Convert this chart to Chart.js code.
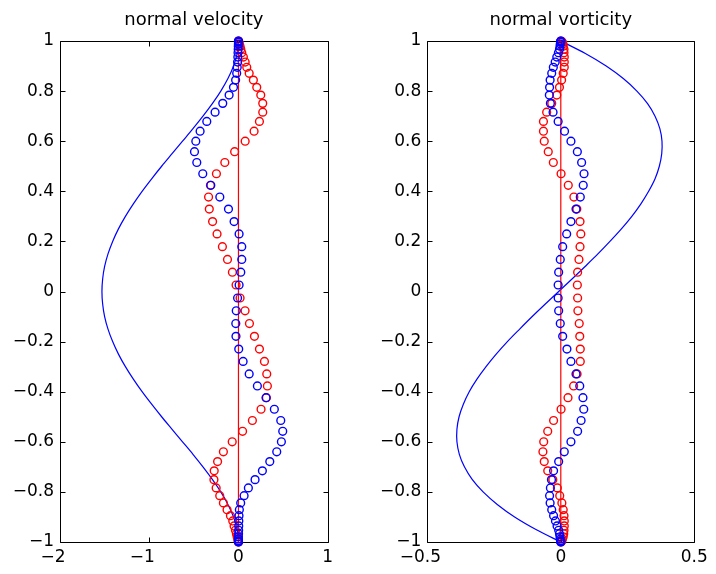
<!DOCTYPE html>
<html>
<head>
<meta charset="utf-8">
<script src="https://cdn.jsdelivr.net/npm/chart.js@4.4.1/dist/chart.umd.min.js"></script>
<style>
  html, body { margin: 0; padding: 0; background: #fff; }
  #wrap { position: relative; width: 716px; height: 574px; }
  canvas { position: absolute; top: 0; }
  #vel { left: 0; }
  #vort { left: 358px; }
</style>
</head>
<body>
<div id="wrap">
  <canvas id="vel" width="358" height="574"></canvas>
  <canvas id="vort" width="358" height="574"></canvas>
</div>
<script>
// Collocation points across the channel (wall to wall)
const yNodes = [1, 0.999, 0.995, 0.988, 0.979, 0.967, 0.953, 0.936, 0.916, 0.895,
  0.871, 0.844, 0.815, 0.784, 0.751, 0.716, 0.679, 0.640, 0.600, 0.558,
  0.515, 0.470, 0.424, 0.377, 0.329, 0.279, 0.230, 0.179, 0.128, 0.077,
  0.026, -0.026, -0.077, -0.128, -0.179, -0.230, -0.279, -0.329, -0.377, -0.424,
  -0.470, -0.515, -0.558, -0.600, -0.640, -0.679, -0.716, -0.751, -0.784, -0.815,
  -0.844, -0.871, -0.895, -0.916, -0.936, -0.953, -0.967, -0.979, -0.988, -0.995,
  -0.999, -1];

// Normal velocity at the nodes (blue / red markers)
const velBlue = [0, 0, 0, -0.001, -0.002, -0.003, -0.005, -0.007, -0.010, -0.014,
  -0.020, -0.032, -0.056, -0.105, -0.176, -0.262, -0.355, -0.430, -0.478, -0.493,
  -0.467, -0.400, -0.310, -0.209, -0.112, -0.049, 0.007, 0.037, 0.037, 0.026,
  0.007, -0.010, -0.025, -0.030, -0.028, 0.003, 0.052, 0.120, 0.212, 0.309,
  0.402, 0.474, 0.496, 0.481, 0.429, 0.351, 0.268, 0.186, 0.111, 0.063,
  0.025, 0.010, 0.006, 0.004, 0.003, 0.002, 0.001, 0, 0, 0,
  0, 0];
const velRed = [0, 0.002, 0.005, 0.010, 0.018, 0.026, 0.037, 0.055, 0.075, 0.093,
  0.120, 0.167, 0.205, 0.250, 0.272, 0.272, 0.235, 0.175, 0.075, -0.043,
  -0.153, -0.247, -0.314, -0.335, -0.327, -0.290, -0.240, -0.180, -0.123, -0.068,
  -0.027, 0.018, 0.074, 0.123, 0.179, 0.235, 0.291, 0.317, 0.324, 0.313,
  0.253, 0.156, 0.046, -0.070, -0.169, -0.234, -0.272, -0.275, -0.250, -0.210,
  -0.169, -0.128, -0.090, -0.064, -0.049, -0.034, -0.023, -0.015, -0.008, -0.004,
  -0.001, 0];

// Normal vorticity at the nodes (blue / red markers)
const vortBlue = [0, 0, -0.001, -0.002, -0.003, -0.005, -0.009, -0.015, -0.021, -0.028,
  -0.034, -0.040, -0.042, -0.043, -0.039, -0.029, -0.010, 0.014, 0.038, 0.062,
  0.078, 0.087, 0.084, 0.073, 0.057, 0.038, 0.022, 0.007, -0.002, -0.008,
  -0.010, -0.010, -0.008, -0.002, 0.007, 0.023, 0.038, 0.057, 0.071, 0.083,
  0.086, 0.076, 0.063, 0.038, 0.013, -0.008, -0.027, -0.035, -0.039, -0.042,
  -0.040, -0.034, -0.027, -0.020, -0.014, -0.008, -0.005, -0.003, -0.002, -0.001,
  0, 0];
const vortRed = [0, 0.003, 0.006, 0.008, 0.009, 0.012, 0.012, 0.013, 0.013, 0.013,
  0.009, 0.003, -0.005, -0.015, -0.034, -0.053, -0.065, -0.065, -0.062, -0.047,
  -0.028, 0.001, 0.028, 0.049, 0.060, 0.072, 0.075, 0.072, 0.068, 0.063,
  0.062, 0.063, 0.064, 0.069, 0.071, 0.073, 0.073, 0.061, 0.048, 0.027,
  0.001, -0.027, -0.049, -0.064, -0.067, -0.062, -0.049, -0.030, -0.013, -0.004,
  0.004, 0.009, 0.012, 0.013, 0.013, 0.012, 0.011, 0.009, 0.006, 0.004,
  0.002, 0];

// Continuous profiles (solid lines)
const curveY = [1, 0.95, 0.9, 0.85, 0.8, 0.75, 0.7, 0.65, 0.6, 0.55,
  0.5, 0.45, 0.4, 0.35, 0.3, 0.25, 0.2, 0.15, 0.1, 0.05,
  0, -0.05, -0.1, -0.15, -0.2, -0.25, -0.3, -0.35, -0.4, -0.45,
  -0.5, -0.55, -0.6, -0.65, -0.7, -0.75, -0.8, -0.85, -0.9, -0.95, -1];
const velCurve = [0, -0.015, -0.055, -0.118, -0.198, -0.293, -0.398, -0.510, -0.627, -0.744,
  -0.861, -0.973, -1.080, -1.178, -1.267, -1.345, -1.410, -1.462, -1.500, -1.522,
  -1.530, -1.522, -1.500, -1.462, -1.410, -1.345, -1.267, -1.178, -1.080, -0.973,
  -0.861, -0.744, -0.627, -0.510, -0.398, -0.293, -0.198, -0.118, -0.055, -0.015, 0];
const vortCurve = [0, 0.092, 0.170, 0.234, 0.285, 0.325, 0.353, 0.371, 0.379, 0.378,
  0.369, 0.353, 0.329, 0.300, 0.266, 0.227, 0.184, 0.139, 0.091, 0.042,
  -0.008, -0.058, -0.107, -0.154, -0.200, -0.242, -0.280, -0.314, -0.343, -0.365,
  -0.381, -0.389, -0.389, -0.380, -0.361, -0.332, -0.291, -0.238, -0.173, -0.093, 0];
const zeroLineX = [0, 0];
const zeroLineY = [1, -1];

const yTicks = { min: -1, max: 1, step: 0.2 };
const velXTicks = { min: -2, max: 1, step: 1 };
const vortXTicks = { min: -0.5, max: 0.5, step: 0.5 };

const FONT = "'DejaVu Sans', 'Liberation Sans', Arial, sans-serif";
const BLUE = '#0000ff';
const RED = '#ff0000';

const pts = (xs, ys) => xs.map((x, i) => ({ x: x, y: ys[i] }));
const fmt = v => String(Math.round(v * 10) / 10).replace('-', '\u2212');
// x labels: the number sits on its tick and the minus sign hangs to the left
const fmtX = v => (v < 0 ? fmt(v) + '\u2002\u2008' : fmt(v));

// Axes box with inward tick marks on all four sides
const boxPlugin = {
  id: 'box',
  beforeDatasetsDraw(chart) {
    const { ctx, chartArea: a, scales } = chart;
    const L = Math.round(a.left) + 0.5, R = Math.round(a.right) + 0.5;
    const T = Math.round(a.top) + 0.5, B = Math.round(a.bottom) + 0.5;
    const tl = 5;
    ctx.save();
    ctx.strokeStyle = '#000';
    ctx.lineWidth = 1;
    ctx.beginPath();
    ctx.rect(L, T, R - L, B - T);
    scales.x.ticks.forEach(t => {
      const p = Math.round(scales.x.getPixelForValue(t.value)) + 0.5;
      ctx.moveTo(p, B); ctx.lineTo(p, B - tl);
      ctx.moveTo(p, T); ctx.lineTo(p, T + tl);
    });
    scales.y.ticks.forEach(t => {
      const p = Math.round(scales.y.getPixelForValue(t.value)) + 0.5;
      ctx.moveTo(L, p); ctx.lineTo(L + tl, p);
      ctx.moveTo(R, p); ctx.lineTo(R - tl, p);
    });
    ctx.stroke();
    ctx.restore();
  }
};

// Panel title centred over the plotting area
const titlePlugin = {
  id: 'panelTitle',
  afterDraw(chart, args, opts) {
    const { ctx, chartArea: a } = chart;
    ctx.save();
    ctx.font = '18px ' + FONT;
    ctx.fillStyle = '#000';
    ctx.textAlign = 'center';
    ctx.textBaseline = 'alphabetic';
    ctx.fillText(opts.text, (a.left + a.right) / 2, 25);
    ctx.restore();
  }
};

function makePanel(id, title, xt, axisW, padRight, curve, blue, red) {
  const marker = color => ({
    showLine: false, pointStyle: 'circle', pointRadius: 3.9, pointBorderWidth: 1.4,
    pointBorderColor: color, pointBackgroundColor: 'rgba(0,0,0,0)', clip: false
  });
  return new Chart(document.getElementById(id), {
    type: 'scatter',
    data: {
      datasets: [
        Object.assign({ data: pts(blue, yNodes), order: 0 }, marker(BLUE)),
        Object.assign({ data: pts(red, yNodes), order: 1 }, marker(RED)),
        { data: pts(zeroLineX, zeroLineY), showLine: true, pointRadius: 0, borderColor: RED, borderWidth: 1.2, order: 2, clip: false },
        { data: pts(curve, curveY), showLine: true, pointRadius: 0, borderColor: BLUE, borderWidth: 1.2, tension: 0.3, order: 3, clip: false }
      ]
    },
    options: {
      responsive: false,
      animation: false,
      devicePixelRatio: 1,
      layout: { padding: { left: 0, right: padRight, top: 41, bottom: 0 } },
      plugins: {
        legend: { display: false },
        tooltip: { enabled: false },
        title: { display: false },
        panelTitle: { text: title }
      },
      scales: {
        x: {
          type: 'linear', min: xt.min, max: xt.max,
          ticks: { stepSize: xt.step, color: '#000', font: { family: FONT, size: 17 }, padding: 5, maxRotation: 0, autoSkip: false, callback: fmtX },
          grid: { display: false, drawTicks: false },
          border: { display: false },
          afterFit(s) { s.height = 32; }
        },
        y: {
          type: 'linear', min: yTicks.min, max: yTicks.max,
          ticks: { stepSize: yTicks.step, color: '#000', font: { family: FONT, size: 17 }, padding: 6, autoSkip: false, callback: fmt },
          grid: { display: false, drawTicks: false },
          border: { display: false },
          afterFit(s) { s.width = axisW; }
        }
      }
    },
    plugins: [boxPlugin, titlePlugin]
  });
}

makePanel('vel', 'normal velocity', velXTicks, 60, 30.3, velCurve, velBlue, velRed);
makePanel('vort', 'normal vorticity', vortXTicks, 69.3, 21.7, vortCurve, vortBlue, vortRed);
</script>
</body>
</html>
